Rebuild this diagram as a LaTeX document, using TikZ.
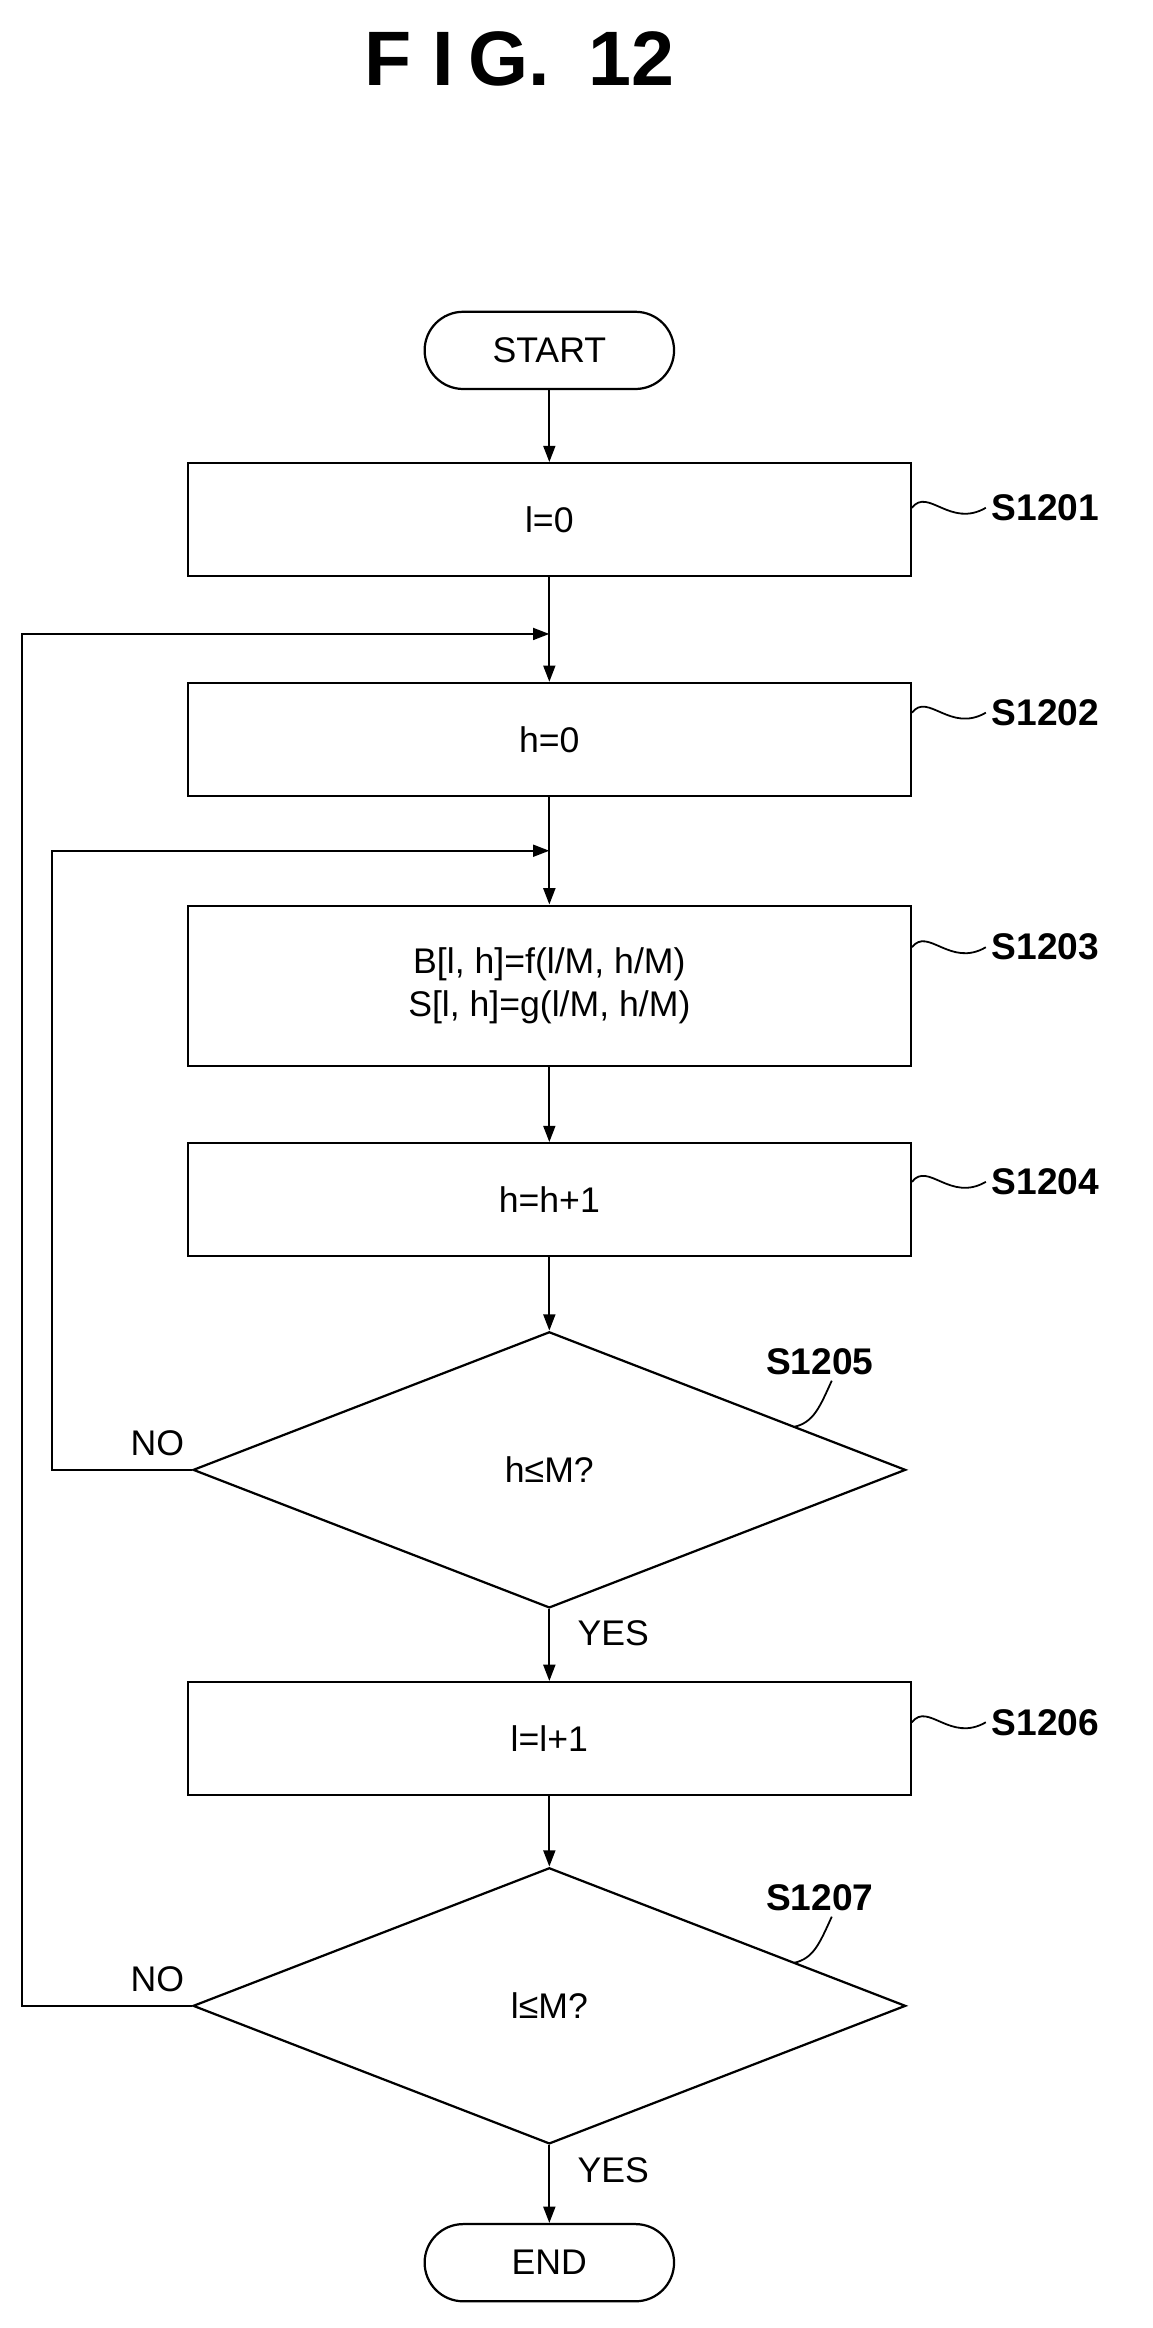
\documentclass[tikz,border=0pt]{standalone}
\usepackage{fontspec}
\setmainfont{Liberation Sans}
\usetikzlibrary{shapes.geometric,arrows.meta}
\begin{document}
\begin{tikzpicture}[x=1pt,y=-1pt,line width=1.5pt,
  box/.style={draw,minimum width=487pt,minimum height=76pt,font=\fontsize{24}{29}\selectfont,align=center},
  term/.style={draw,rounded corners=26pt,minimum width=168pt,minimum height=52pt,font=\fontsize{24}{29}\selectfont},
  dec/.style={draw,diamond,aspect=2.6,minimum width=480pt,minimum height=186pt,inner sep=0pt,font=\fontsize{24}{29}\selectfont},
  lab/.style={font=\bfseries\fontsize{25}{29}\selectfont,anchor=west},
  txt/.style={font=\fontsize{24}{29}\selectfont},
  arr/.style={-{Triangle[length=11pt,width=8pt]}}]
\useasboundingbox (0,0) rectangle (776,1568);
\node[font=\bfseries\fontsize{52}{58}\selectfont] (title) at (350,40) {F\hspace{14pt}I\hspace{10pt}G.\hspace{26pt}12};
\node[term] (start) at (370,236) {START};
\node[box] (s1) at (370,350) {l=0};
\node[box] (s2) at (370,498) {h=0};
\node[box,minimum height=108pt] (s3) at (370,664) {B[l, h]=f(l/M, h/M)\\S[l, h]=g(l/M, h/M)};
\node[box] (s4) at (370,808) {h=h+1};
\node[dec] (d5) at (370,990) {h≤M?};
\node[box] (s6) at (370,1171) {l=l+1};
\node[dec] (d7) at (370,1351) {l≤M?};
\node[term] (end) at (370,1524) {END};
\coordinate (j1) at (370,427);
\coordinate (j2) at (370,573);
\draw[arr] (start) -- (s1);
\draw (s1) -- (j1);
\draw[arr] (j1) -- (s2);
\draw (s2) -- (j2);
\draw[arr] (j2) -- (s3);
\draw[arr] (s3) -- (s4);
\draw[arr] (s4) -- (d5);
\draw[arr] (d5) -- (s6);
\draw[arr] (s6) -- (d7);
\draw[arr] (d7) -- (end);
\draw[arr] (d5.west) -- (35,990) -- (35,573) -- (j2);
\draw[arr] (d7.west) -- (15,1351) -- (15,427) -- (j1);
\node[txt] (no1) at (106,972) {NO};
\node[txt] (no2) at (106,1333) {NO};
\node[txt,anchor=west] (y1) at (385,1100) {YES};
\node[txt,anchor=west] (y2) at (385,1462) {YES};
\foreach \n/\y/\t in {s1/342/S1201,s2/480/S1202,s3/638/S1203,s4/796/S1204,s6/1160/S1206}{
  \node[lab] (l\n) at (664,\y) {\t};
  \draw[line width=1.2pt] (\n.east |- 0,\y) .. controls (625,\y-14) and (640,\y+14) .. (l\n.west);
}
\node[lab] (l5) at (512,917) {S1205};
\draw[line width=1.2pt] (535,961) .. controls (548,958) and (552,948) .. ([xshift=8pt]l5.south);
\node[lab] (l7) at (512,1278) {S1207};
\draw[line width=1.2pt] (535,1322) .. controls (548,1319) and (552,1309) .. ([xshift=8pt]l7.south);
\end{tikzpicture}
\end{document}
